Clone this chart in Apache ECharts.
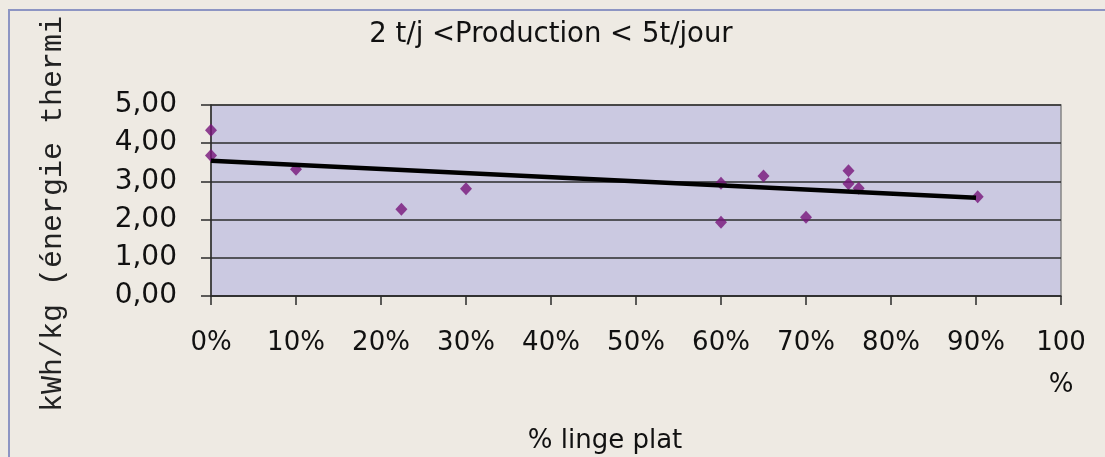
<!DOCTYPE html>
<html>
<head>
<meta charset="utf-8">
<script src="https://cdn.jsdelivr.net/npm/echarts@6/dist/echarts.min.js"></script>
<style>
  html, body { margin: 0; padding: 0; background: #EEEAE3; }
  #chart { width: 1105px; height: 457px; }
</style>
</head>
<body>
<div id="chart"></div>
<script>
// Share of flat linen (%) and thermal energy per kg for each laundry
const lingePlat = [0, 0, 10, 22.4, 30, 60, 60, 65, 70, 75, 75, 76.2, 90.2];
const energie = [4.34, 3.68, 3.32, 2.27, 2.81, 2.95, 1.93, 3.14, 2.06, 3.28, 2.94, 2.82, 2.60];

// Linear trend line end points
const trendX = [0, 90];
const trendY = [3.54, 2.57];

// Axis tick labels
const xTickLabels = ['0%', '10%', '20%', '30%', '40%', '50%', '60%', '70%', '80%', '90%', '100\n%'];
const yTickLabels = ['0,00', '1,00', '2,00', '3,00', '4,00', '5,00'];

const titleText = '2 t/j <Production < 5t/jour';
const xName = '% linge plat';
const yName = 'kWh/kg (énergie thermi';

const sans = 'DejaVu Sans';
const chart = echarts.init(document.getElementById('chart'));

chart.setOption({
  backgroundColor: '#EEEAE3',
  animation: false,
  grid: {
    left: 211, top: 105, right: 44, bottom: 161,
    show: true,
    backgroundColor: '#CBC9E1',
    borderColor: '#858585',
    borderWidth: 1.5
  },
  xAxis: {
    type: 'value', min: 0, max: 100, interval: 10,
    axisLine: { show: true, lineStyle: { color: '#2b2b2b', width: 1.5 } },
    axisTick: { show: true, length: 9, lineStyle: { color: '#2b2b2b', width: 1.5 } },
    splitLine: { show: false },
    axisLabel: {
      margin: 26, color: '#111', fontFamily: sans, fontSize: 26, lineHeight: 42,
      formatter: v => xTickLabels[Math.round(v / 10)]
    }
  },
  yAxis: {
    type: 'value', min: 0, max: 5, interval: 1,
    axisLine: { show: true, lineStyle: { color: '#2b2b2b', width: 1.5 } },
    axisTick: { show: true, length: 10, lineStyle: { color: '#2b2b2b', width: 1.5 } },
    splitLine: { show: true, lineStyle: { color: '#2b2b2b', width: 1.5 } },
    axisLabel: {
      margin: 34, color: '#111', fontFamily: sans, fontSize: 28, padding: [4, 0, 0, 0],
      formatter: v => yTickLabels[Math.round(v)]
    }
  },
  series: [
    {
      type: 'scatter',
      data: lingePlat.map((x, i) => [x, energie[i]]),
      symbol: 'diamond', symbolSize: [12, 13],
      itemStyle: { color: '#77157A' },
      z: 2
    },
    {
      type: 'line',
      data: trendX.map((x, i) => [x, trendY[i]]),
      symbol: 'none',
      lineStyle: { color: '#000', width: 4.5 },
      z: 3
    }
  ],
  graphic: [
    {
      type: 'rect', z: 100,
      shape: { x: 9, y: 10, width: 1200, height: 600 },
      style: { fill: 'none', stroke: '#8D95C3', lineWidth: 2 }
    },
    {
      type: 'text', x: 551, y: 35,
      style: { text: titleText, fontFamily: sans, fontSize: 27.5, fill: '#111',
               textAlign: 'center', textVerticalAlign: 'middle' }
    },
    {
      type: 'text', x: 605, y: 441,
      style: { text: xName, fontFamily: sans, fontSize: 26, fill: '#111',
               textAlign: 'center', textVerticalAlign: 'middle' }
    },
    {
      type: 'text', x: 53, y: 412, rotation: Math.PI / 2,
      style: { text: yName, fontFamily: "'Courier New', 'Liberation Mono', monospace", fontSize: 30, fill: '#222',
               textAlign: 'left', textVerticalAlign: 'middle' }
    }
  ]
});
</script>
</body>
</html>
